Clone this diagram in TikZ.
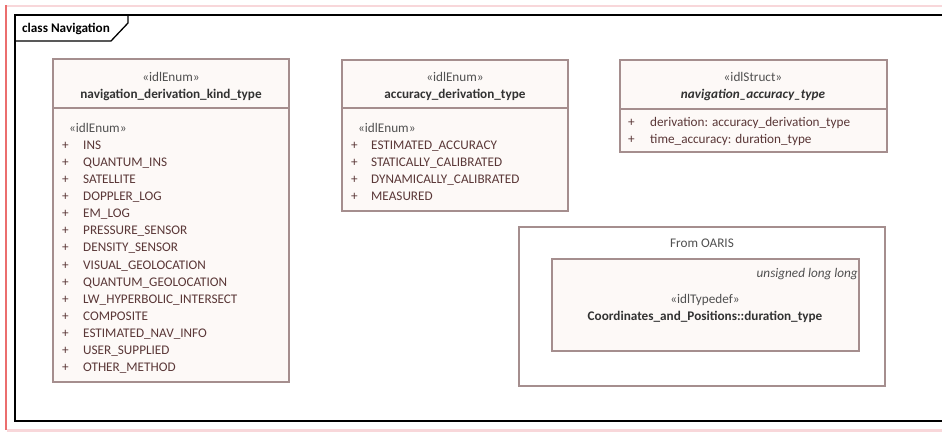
\documentclass[tikz,border=0pt]{standalone}
\usepackage{fontspec}
\setmainfont{Carlito}
\usepackage{tikz}
\usetikzlibrary{positioning}
\definecolor{boxline}{RGB}{165,142,142}
\definecolor{boxfill}{RGB}{253,249,247}
\definecolor{itemtext}{RGB}{90,55,55}
\definecolor{sttext}{RGB}{80,80,80}
\definecolor{nametext}{RGB}{50,50,50}
\definecolor{pinkline}{RGB}{248,215,218}
\definecolor{redline}{RGB}{235,110,110}
\newcommand\umlfont{\fontsize{13.2}{15}\selectfont}

\begin{document}
\begin{tikzpicture}[x=1pt,y=-1pt,
  every node/.style={inner sep=0pt,font=\umlfont},
  umlbox/.style={draw=boxline,fill=boxfill,line width=1.3pt},
  stereo/.style={text=sttext},
  umlname/.style={anchor=base,text=nametext,font=\umlfont\bfseries},
  item/.style={anchor=base west,text=itemtext}]
\useasboundingbox (0,0) rectangle (942,432);
\fill[white] (0,0) rectangle (942,432);
\fill[pinkline] (7,429) rectangle (942,432);
\draw[pinkline,line width=1.5pt] (6,6)--(942,6);
\draw[redline,line width=1.2pt] (6,5)--(6,430);
\draw[line width=1.8pt] (942,15)--(15,15)--(15,421)--(942,421);
\draw[line width=1.3pt] (15,41)--(111,41)--(128,23)--(128,15);
\node[anchor=base west,font=\umlfont\bfseries] (frame) at (22,32) {class Navigation};

\draw[umlbox] (53,59) rectangle (289,382);
\draw[boxline,line width=1.3pt] (53,108)--(289,108);
\node[stereo,anchor=base] (nk-st) at (171,81) {«idlEnum»};
\node[umlname] (nk-name) at (171,98) {navigation\_derivation\_kind\_type};
\node[stereo,anchor=base west] (nk-body) at (69,132) {«idlEnum»};
\foreach \t [count=\i] in {INS,QUANTUM\_INS,SATELLITE,DOPPLER\_LOG,EM\_LOG,PRESSURE\_SENSOR,DENSITY\_SENSOR,VISUAL\_GEOLOCATION,QUANTUM\_GEOLOCATION,LW\_HYPERBOLIC\_INTERSECT,COMPOSITE,ESTIMATED\_NAV\_INFO,USER\_SUPPLIED,OTHER\_METHOD}{
  \node[item] (nk-p\i) at (62,{149+17.15*(\i-1)}) {+};
  \node[item] (nk-\i) at (83,{149+17.15*(\i-1)}) {\t};
}

\draw[umlbox] (342,60) rectangle (568,211);
\draw[boxline,line width=1.3pt] (342,108)--(568,108);
\node[stereo,anchor=base] (ad-st) at (455,81) {«idlEnum»};
\node[umlname] (ad-name) at (455,98) {accuracy\_derivation\_type};
\node[stereo,anchor=base west] (ad-body) at (358,132) {«idlEnum»};
\foreach \t [count=\i] in {ESTIMATED\_ACCURACY,STATICALLY\_CALIBRATED,DYNAMICALLY\_CALIBRATED,MEASURED}{
  \node[item] (ad-p\i) at (351,{149+17.15*(\i-1)}) {+};
  \node[item] (ad-\i) at (371,{149+17.15*(\i-1)}) {\t};
}

\draw[umlbox] (620,60) rectangle (887,152);
\draw[boxline,line width=1.3pt] (620,109)--(887,109);
\node[stereo,anchor=base] (na-st) at (753,81) {«idlStruct»};
\node[umlname,font=\umlfont\bfseries\itshape] (na-name) at (753,98) {navigation\_accuracy\_type};
\foreach \t [count=\i] in {derivation: accuracy\_derivation\_type,time\_accuracy: duration\_type}{
  \node[item] (na-p\i) at (628,{126+17.5*(\i-1)}) {+};
  \node[item] (na-\i) at (650,{126+17.5*(\i-1)}) {\t};
}

\draw[draw=boxline,fill=white,line width=1.3pt] (519,227) rectangle (885,386);
\node[stereo,anchor=base] (oaris) at (702,247) {From OARIS};
\draw[umlbox] (552,259) rectangle (859,351);
\node[stereo,anchor=base east,font=\umlfont\itshape] (dt-type) at (858,277) {unsigned long long};
\node[stereo,anchor=base] (dt-st) at (705,303) {«idlTypedef»};
\node[umlname] (dt-name) at (705,320) {Coordinates\_and\_Positions::duration\_type};
\end{tikzpicture}
\end{document}
